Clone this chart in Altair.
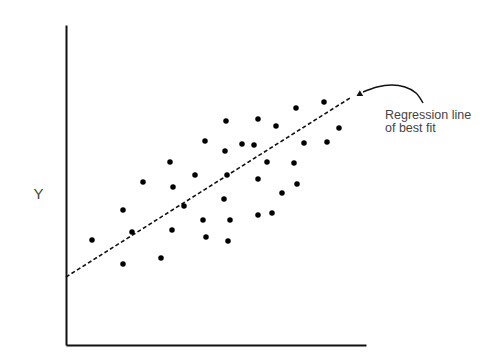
import altair as alt
import pandas as pd

# Scatter points (x, y)
px = [26, 57, 66, 57, 77, 95, 104, 107, 106, 118, 129, 139, 137, 140, 160, 159, 161, 158,
      164, 162, 176, 188, 192, 201, 192, 192, 206, 210, 216, 228, 231, 230, 238, 258, 261, 273]
py = [105, 135, 113, 81, 163, 87, 183, 158, 115, 139, 170, 204, 125, 108, 224, 194, 170, 146,
      125, 104, 201, 200, 226, 183, 166, 130, 132, 219, 152, 182, 161, 237, 202, 243, 203, 217]

# Regression line end points
reg_x = [0, 284]
reg_y = [68, 247]

# Curved annotation arrow path
arr_x = [357, 350, 339, 326, 311, 297]
arr_y = [242, 252, 258, 260, 258, 253]
arr_order = [0, 1, 2, 3, 4, 5]

# Annotation text
ann_lines = ["Regression line", "of best fit"]
ann_x = [319, 319]
ann_y = [230, 217]

pts = pd.DataFrame({"x": px, "y": py})
reg = pd.DataFrame({"x": reg_x, "y": reg_y})
arr = pd.DataFrame({"x": arr_x, "y": arr_y, "o": arr_order})
head = pd.DataFrame({"x": [arr_x[-1] - 4], "y": [arr_y[-1] - 2.5]})
ann = pd.DataFrame({"t": ann_lines, "x": ann_x, "y": ann_y})

xs = alt.Scale(domain=[0, 300], nice=False, zero=False)
ys = alt.Scale(domain=[0, 320], nice=False, zero=False)

xaxis = alt.Axis(domain=True, domainColor="#111", domainWidth=2, ticks=False,
                 labels=False, grid=False, title=None)
yaxis = alt.Axis(domain=True, domainColor="#111", domainWidth=2, ticks=False,
                 labels=False, grid=False, title="Y", titleAngle=0, titleX=-28,
                 titleY=168, titleAlign="center", titleBaseline="middle",
                 titleFontSize=15, titleFontWeight="normal", titleColor="#444",
                 titleFont="Liberation Sans")

points = alt.Chart(pts).mark_circle(size=30, color="black", opacity=1).encode(
    x=alt.X("x:Q", scale=xs, axis=xaxis),
    y=alt.Y("y:Q", scale=ys, axis=yaxis),
)

line = alt.Chart(reg).mark_line(color="#111", strokeWidth=1.6, strokeDash=[4, 2.5]).encode(
    x=alt.X("x:Q", scale=xs), y=alt.Y("y:Q", scale=ys)
)

arrow = alt.Chart(arr).mark_line(color="#111", strokeWidth=1.5, interpolate="natural").encode(
    x=alt.X("x:Q", scale=xs), y=alt.Y("y:Q", scale=ys), order="o:Q"
)

arrowhead = alt.Chart(head).mark_point(shape="triangle-left", filled=True, size=45,
                                        color="#111", opacity=1, angle=330).encode(
    x=alt.X("x:Q", scale=xs), y=alt.Y("y:Q", scale=ys)
)

text = alt.Chart(ann).mark_text(align="left", baseline="middle", fontSize=12.5,
                                color="#444", font="Liberation Sans").encode(
    x=alt.X("x:Q", scale=xs), y=alt.Y("y:Q", scale=ys), text="t:N"
)

chart = alt.layer(line, points, arrow, arrowhead, text).properties(
    width=300, height=320,
    autosize=alt.AutoSizeParams(type="none"),
    padding={"left": 66, "top": 25, "right": 124, "bottom": 10},
    background="white",
).configure_view(stroke=None)

chart.save("out.html", embed_options={"renderer": "svg", "actions": False})
